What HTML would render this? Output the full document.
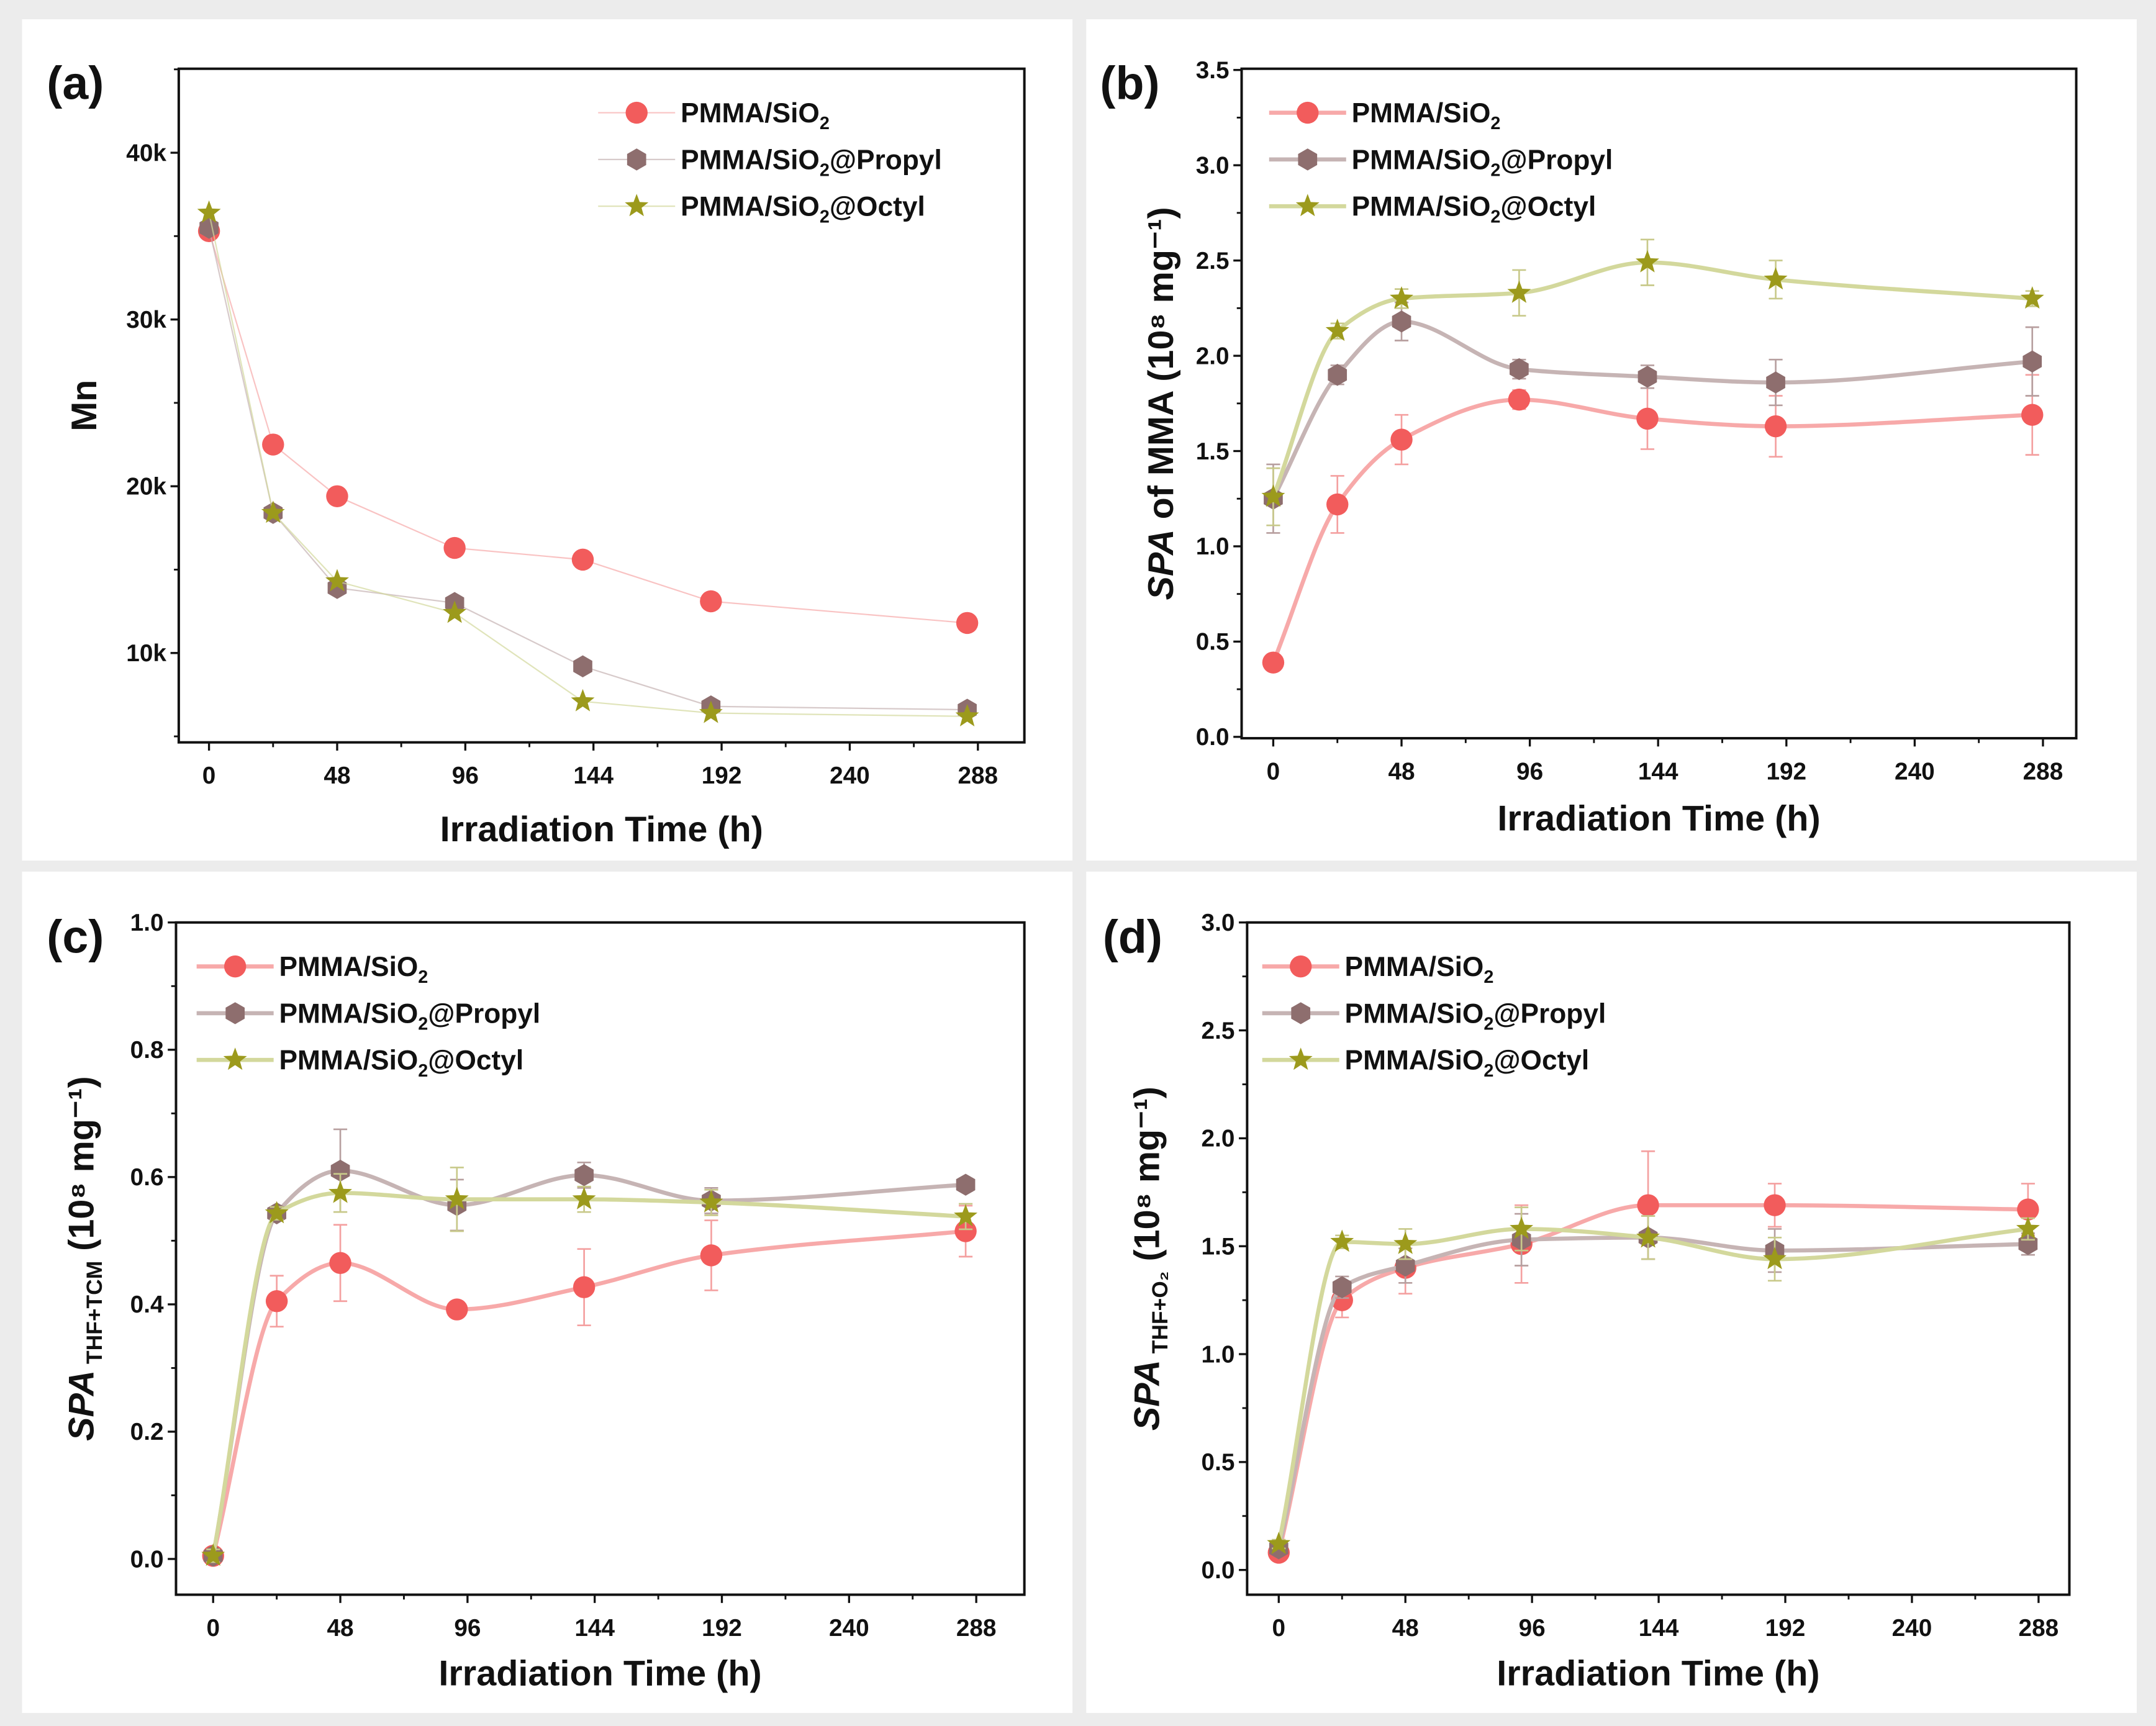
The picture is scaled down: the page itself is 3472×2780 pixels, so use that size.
<!DOCTYPE html>
<html><head><meta charset="utf-8">
<style>
html,body{margin:0;padding:0;background:#ececec;}
svg{display:block;}
text{font-family:"Liberation Sans",Arial,sans-serif;font-weight:bold;fill:#111;}
</style></head>
<body>
<svg id="fig" xmlns="http://www.w3.org/2000/svg" width="3472" height="2780" viewBox="0 0 1568 1255.5"></svg>
<script>
const hours=[0,24,48,92,140,188,284];
const xTickLabels=[0,48,96,144,192,240,288];
const seriesNames=["PMMA/SiO2","PMMA/SiO2@Propyl","PMMA/SiO2@Octyl"];

const aSiO2=[35300,22500,19400,16300,15600,13100,11800];
const aPropyl=[35500,18400,13900,13000,9200,6800,6600];
const aOctyl=[36400,18400,14300,12400,7100,6400,6200];
const aYTicks=[10000,20000,30000,40000];
const aYTickLabels=["10k","20k","30k","40k"];

const bSiO2=[0.39,1.22,1.56,1.77,1.67,1.63,1.69];
const bSiO2Err=[0.04,0.15,0.13,0.05,0.16,0.16,0.21];
const bPropyl=[1.25,1.90,2.18,1.93,1.89,1.86,1.97];
const bPropylErr=[0.18,0.05,0.1,0.05,0.06,0.12,0.18];
const bOctyl=[1.26,2.13,2.30,2.33,2.49,2.40,2.30];
const bOctylErr=[0.15,0.04,0.05,0.12,0.12,0.1,0.04];
const bYTicks=[0,0.5,1.0,1.5,2.0,2.5,3.0,3.5];

const cSiO2=[0.005,0.405,0.465,0.392,0.427,0.477,0.515];
const cSiO2Err=[0.01,0.04,0.06,0.01,0.06,0.055,0.04];
const cPropyl=[0.005,0.543,0.61,0.556,0.603,0.563,0.588];
const cPropylErr=[0.01,0.01,0.065,0.04,0.02,0.02,0.01];
const cOctyl=[0.005,0.543,0.575,0.565,0.565,0.56,0.538];
const cOctylErr=[0.01,0.01,0.03,0.05,0.02,0.02,0.02];
const cYTicks=[0,0.2,0.4,0.6,0.8,1.0];

const dSiO2=[0.08,1.25,1.40,1.51,1.69,1.69,1.67];
const dSiO2Err=[0.02,0.08,0.12,0.18,0.25,0.1,0.12];
const dPropyl=[0.10,1.31,1.41,1.53,1.54,1.48,1.51];
const dPropylErr=[0.02,0.05,0.08,0.12,0.1,0.1,0.05];
const dOctyl=[0.12,1.52,1.51,1.58,1.54,1.44,1.58];
const dOctylErr=[0.02,0.03,0.07,0.1,0.1,0.1,0.05];
const dYTicks=[0,0.5,1.0,1.5,2.0,2.5,3.0];

const NS="http://www.w3.org/2000/svg";
const svg=document.getElementById('fig');
function mk(tag,attrs,parent){const e=document.createElementNS(NS,tag);for(const k in attrs)e.setAttribute(k,attrs[k]);(parent||svg).appendChild(e);return e;}

const markerFill=["#f25c5c","#8e6e6e","#9c9a1c"];
const lineCol=["#f7a9a9","#c6b4b4","#d3d89c"];
const errCol=["#f4a0a0","#b79f9f","#c8c98a"];

const bg=mk('rect',{x:0,y:0,width:1568,height:1255.5,fill:'#ececec'});


const panelRects=[[16,14,764,612],[790,14,764,612],[16,634,764,612],[790,634,764,612]];
panelRects.forEach((r,i)=>{const p=mk('rect',{x:r[0],y:r[1],width:r[2],height:r[3],fill:'#fff'});

});

function marker(g,type,cx,cy,r,fill){
  let e;
  if(type===0){e=mk('circle',{cx:cx,cy:cy,r:r,fill:fill},g);}
  else if(type===1){let pts=[];for(let k=0;k<6;k++){const a=Math.PI/6+k*Math.PI/3;pts.push((cx+r*Math.cos(a)).toFixed(2)+','+(cy+r*Math.sin(a)).toFixed(2));}
    e=mk('polygon',{points:pts.join(' '),fill:fill},g);}
  else{let pts=[];for(let k=0;k<10;k++){const a=-Math.PI/2+k*Math.PI/5;const rr=k%2?r*0.42:r;pts.push((cx+rr*Math.cos(a)).toFixed(2)+','+(cy+rr*Math.sin(a)).toFixed(2));}
    e=mk('polygon',{points:pts.join(' '),fill:fill},g);}
  return e;
}
// monotone cubic (Fritsch-Carlson)
function smoothPath(pts){
  const n=pts.length,dx=[],dy=[],m=[],t=[];
  for(let i=0;i<n-1;i++){dx[i]=pts[i+1][0]-pts[i][0];dy[i]=pts[i+1][1]-pts[i][1];m[i]=dy[i]/dx[i];}
  t[0]=m[0];t[n-1]=m[n-2];
  for(let i=1;i<n-1;i++){ if(m[i-1]*m[i]<=0) t[i]=0; else {const w1=2*dx[i]+dx[i-1],w2=dx[i]+2*dx[i-1];t[i]=(w1+w2)/(w1/m[i-1]+w2/m[i]);}}
  let d='M'+pts[0][0].toFixed(2)+','+pts[0][1].toFixed(2);
  for(let i=0;i<n-1;i++){const h=dx[i]/3;
    d+=' C'+(pts[i][0]+h).toFixed(2)+','+(pts[i][1]+t[i]*h).toFixed(2)+' '+(pts[i+1][0]-h).toFixed(2)+','+(pts[i+1][1]-t[i+1]*h).toFixed(2)+' '+pts[i+1][0].toFixed(2)+','+pts[i+1][1].toFixed(2);}
  return d;
}
function legendLabel(g,x,y,i){
  const t=mk('text',{x:x,y:y+7,'font-size':20},g);
  
  
  t.appendChild(document.createTextNode('PMMA/SiO'));
  const s=mk('tspan',{dy:5,'font-size':13},t);s.textContent='2';
  if(i>0){const s2=mk('tspan',{dy:-5},t);s2.textContent=i===1?'@Propyl':'@Octyl';}
}

function panel(cfg){
  const g=mk('g',{});
  
  
  const X=h=>cfg.x0+h/48*cfg.xs;
  const Y=v=>cfg.y0-v*cfg.ys;
  const lw=cfg.smooth?3:1;
  const lop=cfg.smooth?1:0.7;
  cfg.series.forEach((vals,i)=>{
    const sg=mk('g',{},g);
    
    
    const pts=hours.map((h,j)=>[X(h),Y(vals[j])]);
    let d;
    if(cfg.smooth) d=smoothPath(pts); else d='M'+pts.map(p=>p[0].toFixed(2)+','+p[1].toFixed(2)).join(' L');
    const ln=mk('path',{d:d,fill:'none',stroke:lineCol[i],'stroke-width':lw,'stroke-opacity':lop},sg);
    
    
    if(cfg.errs){const er=cfg.errs[i];
      hours.forEach((h,j)=>{const x=X(h),y1=Y(vals[j]+er[j]),y2=Y(vals[j]-er[j]);
        const eb=mk('path',{d:`M${x},${y1} L${x},${y2} M${x-5},${y1} L${x+5},${y1} M${x-5},${y2} L${x+5},${y2}`,stroke:errCol[i],'stroke-width':1.2,fill:'none'},sg);
        
        });}
    hours.forEach((h,j)=>{const m=marker(sg,i,X(h),Y(vals[j]),i===2?9:8,markerFill[i]);
      
      });
  });
  const b=mk('rect',{x:cfg.bx0,y:cfg.by0,width:cfg.bx1-cfg.bx0,height:cfg.by1-cfg.by0,fill:'none',stroke:'#111','stroke-width':1.8},g);
  
  
  xTickLabels.forEach(h=>{const x=X(h);
    const tk=mk('line',{x1:x,x2:x,y1:cfg.by1,y2:cfg.by1+6,stroke:'#111','stroke-width':1.5},g);
    
    
    const mx=X(h+24);if(h<288){const mt=mk('line',{x1:mx,x2:mx,y1:cfg.by1,y2:cfg.by1+3.5,stroke:'#111','stroke-width':1.3},g);
    
    }
    const t=mk('text',{x:x,y:cfg.by1+30,'font-size':17.5,'text-anchor':'middle'},g);
    
    
    t.textContent=h;});
  cfg.yTicks.forEach((v,k)=>{const y=Y(v);
    const tk=mk('line',{x1:cfg.bx0-6,x2:cfg.bx0,y1:y,y2:y,stroke:'#111','stroke-width':1.5},g);
    
    
    const t=mk('text',{x:cfg.bx0-9,y:y+6,'font-size':17.5,'text-anchor':'end'},g);
    
    
    t.textContent=cfg.yLabels?cfg.yLabels[k]:v.toFixed(1);});
  for(let v=cfg.mStart;v<=cfg.mEnd+1e-9;v+=cfg.mStep){const y=Y(v);if(y<cfg.by0||y>cfg.by1)continue;
    const mt=mk('line',{x1:cfg.bx0-3.5,x2:cfg.bx0,y1:y,y2:y,stroke:'#111','stroke-width':1.3},g);
    
    }
  const xt=mk('text',{x:(cfg.bx0+cfg.bx1)/2,y:cfg.xTitleY,'font-size':26,'text-anchor':'middle'},g);
  
  
  xt.textContent='Irradiation Time (h)';
  const yt=mk('text',{x:0,y:0,'font-size':26,'text-anchor':'middle',transform:`translate(${cfg.yTitleX},${(cfg.by0+cfg.by1)/2+cfg.yTitleDy}) rotate(-90)`},g);
  
  
  cfg.yTitle(yt);
  const pl=mk('text',{x:cfg.lx,y:cfg.ly,'font-size':34},g);
  
  
  pl.textContent='('+cfg.id+')';
  const lg=mk('g',{},g);
  
  
  [0,1,2].forEach(i=>{const y=cfg.legY+i*34;
    const ll=mk('line',{x1:cfg.legX-28,x2:cfg.legX+28,y1:y,y2:y,stroke:lineCol[i],'stroke-width':lw,'stroke-opacity':lop},lg);
    
    
    const m=marker(lg,i,cfg.legX,y,i===2?9:8,markerFill[i]);
    
    
    legendLabel(lg,cfg.legX+32,y,i);});
}
function spaTitle(t,sub,after){
  const a=mk('tspan',{'font-style':'italic'},t);a.textContent='SPA';
  if(sub){const s=mk('tspan',{'font-size':16,dy:6},t);s.textContent=' '+sub;
    const r=mk('tspan',{dy:-6},t);r.textContent=' (10⁸ mg⁻¹)';}
  else{const r=mk('tspan',{},t);r.textContent=after;}
}

panel({id:'a',x0:152,xs:93.2,y0:475+121.3,ys:121.3/10000,bx0:130,bx1:745,by0:50,by1:540,
  series:[aSiO2,aPropyl,aOctyl],errs:null,smooth:false,yTicks:aYTicks,yLabels:aYTickLabels,
  mStart:5000,mEnd:45000,mStep:5000,xTitleY:612,yTitleX:70,yTitleDy:0,
  yTitle:t=>{t.textContent='Mn';},lx:34,ly:72,legX:463,legY:82});
panel({id:'b',x0:926,xs:93.3,y0:536,ys:138.6,bx0:903,bx1:1510,by0:50,by1:537,
  series:[bSiO2,bPropyl,bOctyl],errs:[bSiO2Err,bPropylErr,bOctylErr],smooth:true,yTicks:bYTicks,
  mStart:0.25,mEnd:3.5,mStep:0.5,xTitleY:604,yTitleX:853,yTitleDy:0,
  yTitle:t=>spaTitle(t,null,' of MMA (10⁸ mg⁻¹)'),lx:800,ly:72,legX:951,legY:82});
panel({id:'c',x0:155,xs:92.5,y0:1134,ys:463,bx0:128,bx1:745,by0:671,by1:1160,
  series:[cSiO2,cPropyl,cOctyl],errs:[cSiO2Err,cPropylErr,cOctylErr],smooth:true,yTicks:cYTicks,
  mStart:0.1,mEnd:1.0,mStep:0.2,xTitleY:1226,yTitleX:68,yTitleDy:0,
  yTitle:t=>spaTitle(t,'THF+TCM'),lx:34,ly:693,legX:171,legY:703});
panel({id:'d',x0:930,xs:92.1,y0:1142,ys:157,bx0:907,bx1:1505,by0:671,by1:1160,
  series:[dSiO2,dPropyl,dOctyl],errs:[dSiO2Err,dPropylErr,dOctylErr],smooth:true,yTicks:dYTicks,
  mStart:0.25,mEnd:3.0,mStep:0.5,xTitleY:1226,yTitleX:843,yTitleDy:0,
  yTitle:t=>spaTitle(t,'THF+O₂'),lx:802,ly:693,legX:946,legY:703});
</script>
</body></html>
